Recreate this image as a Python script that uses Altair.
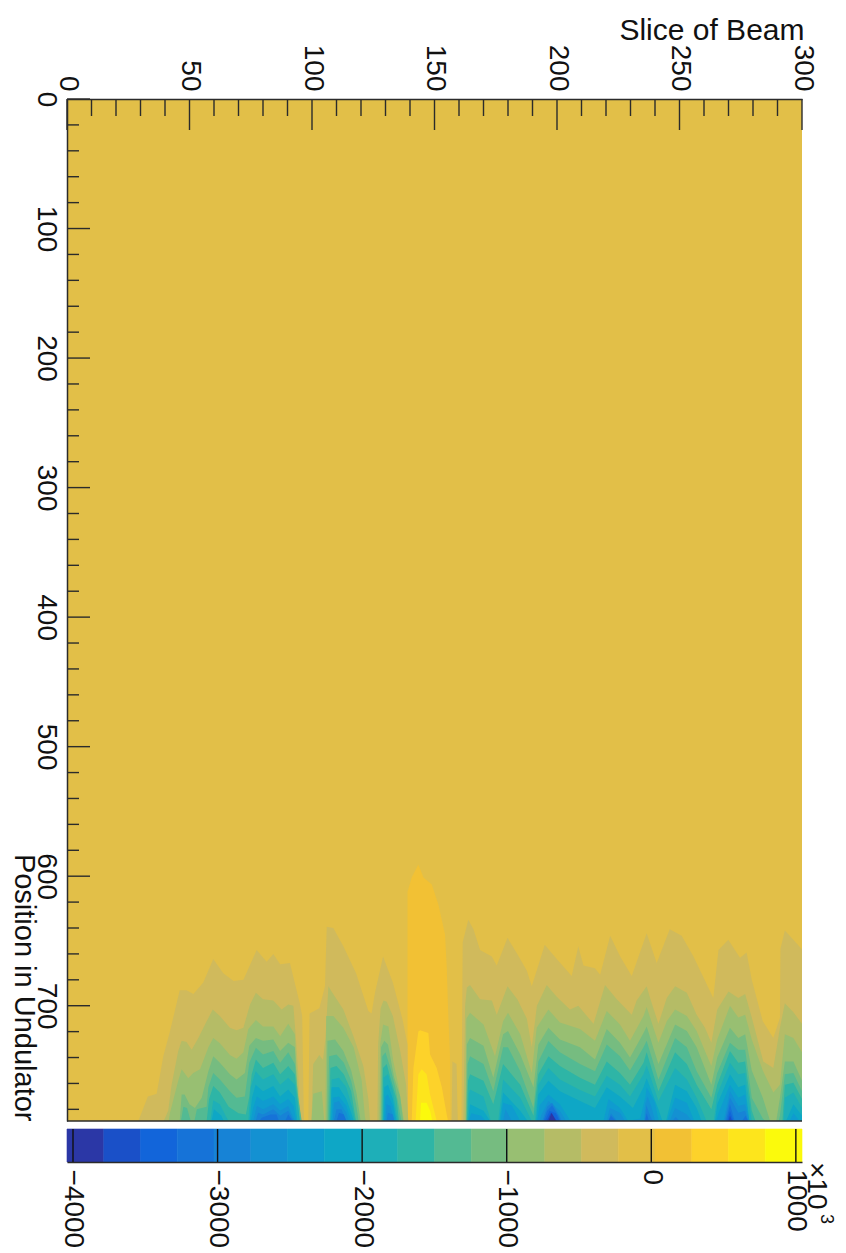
import altair as alt
import pandas as pd

FONT = "Liberation Sans"
BOTTOM = 789

BAND_COLORS = ["#2b37a6", "#1a50c8", "#1265da", "#1673d8", "#1783d6", "#1491d2", "#0f9ccf", "#0ea7c6",
               "#1eafb8", "#2eb5a6", "#53ba93", "#76bc80", "#98bf72", "#b5bc66", "#d0ba5c", "#e2bf48",
               "#f2c134", "#fdd22a", "#fde51c", "#fbfa0c"]
BAND_START = -4041.5
BAND_STEP = 254.2

X_MAJOR = [0, 50, 100, 150, 200, 250, 300]
X_MINOR = [10, 20, 30, 40, 60, 70, 80, 90, 110, 120, 130, 140, 160, 170, 180, 190, 210, 220, 230, 240, 260, 270, 280, 290]
Y_MAJOR = [0, 100, 200, 300, 400, 500, 600, 700]
Y_MINOR = [20, 40, 60, 80, 120, 140, 160, 180, 220, 240, 260, 280, 320, 340, 360, 380, 420, 440, 460, 480,
           520, 540, 560, 580, 620, 640, 660, 680, 720, 740, 760, 780]
CBAR_TICKS = [-4000, -3000, -2000, -1000, 0, 1000]

BAND_16 = [(0, 0), (300, 0)]

BAND_17 = [(139, 789), (139, 612), (140.7, 601), (143.4, 591), (145.5, 601), (148.9, 606.5), (151.6, 622), (154.3, 645),
           (155, 671), (155.7, 712), (156.3, 738), (156.5, 789)]
BAND_18 = [(140.7, 789), (141.4, 748), (143.4, 720), (144.1, 719), (147.5, 721), (148.2, 737.6), (150.9, 748), (153, 763),
           (155, 784), (155.5, 789)]
BAND_19 = [(142.3, 789), (143.4, 753), (144.8, 749), (146.8, 753), (148.2, 768.5), (150.9, 789)]
BAND_20 = [(144.1, 789), (144.5, 775), (146.8, 775), (148.2, 781), (149.1, 789)]

BAND_15 = [(29, 789), (29.5, 787), (33, 770), (36.6, 768), (39.3, 739), (42, 720), (46, 688), (48.8, 688), (51.6, 691),
           (55.6, 682), (59.7, 664), (63.8, 675), (68, 681), (72, 680), (77.4, 657), (81.5, 666), (84.2, 660), (87, 668),
           (91, 667), (95, 698), (96, 708), (96.7, 789), (98.5, 789), (99, 706), (103, 702), (105.3, 685), (106, 639),
           (108.7, 640), (112.8, 654), (118, 675), (123, 704), (124.3, 706), (125.7, 690), (129, 662), (133, 682),
           (137, 711), (139, 730), (139.2, 789), (157, 789), (157.3, 743), (159, 745), (159.5, 789), (161, 789),
           (161.5, 651), (163.8, 633.6), (165.9, 641), (168.6, 657), (173.4, 662), (175.4, 669), (179.8, 647.6),
           (183.8, 660), (187.7, 673), (189.7, 685), (195, 653), (199.9, 664), (206, 677), (208.7, 654), (210.8, 669),
           (215.5, 671), (217.6, 676), (221.7, 646), (225.8, 662), (230.5, 677), (236.6, 644), (240.7, 667), (246, 641),
           (250.9, 646), (255.7, 662), (263.8, 694), (265.9, 657), (269.9, 649), (274.7, 663), (277.4, 659), (279.5, 680),
           (284, 712), (288.3, 725), (291, 709), (291.2, 656), (293, 642), (296.5, 649), (300, 656.6)]

BAND_14 = [(39.5, 789), (41.3, 781), (42.7, 761), (45.4, 735), (46.8, 727), (48.8, 728), (50.9, 734), (53.6, 725), (57, 712),
           (59.5, 703), (62.4, 708), (66.5, 717), (69.2, 719), (72, 717), (74.7, 699), (77.1, 690), (80, 695), (84.2, 696),
           (87.6, 703), (90.3, 699), (92.4, 700), (93.5, 727), (94.4, 753), (95, 786), (95.2, 789), (99.8, 789), (100.5, 745),
           (103, 738), (104.5, 742), (105.5, 725), (106.7, 685), (108, 689), (112.8, 703), (117, 724), (121, 747), (123, 772),
           (123.7, 789), (126.7, 789), (127, 730), (128, 702), (129.2, 696), (130.5, 697), (133, 708), (136, 735), (138.4, 761),
           (139.3, 789), (161.8, 789), (162.5, 700), (163.2, 686), (164.5, 684), (168.6, 695), (173.4, 696), (175.4, 707),
           (179.8, 685), (183.8, 695), (187.7, 710), (189.7, 732), (191.8, 700), (195.8, 684), (199.9, 693), (205.3, 703),
           (208.7, 700), (214.9, 714), (219.6, 684), (224.4, 695), (230.5, 707), (232.5, 696), (236.6, 685), (238, 694),
           (241.4, 714), (244.8, 694), (248.2, 685), (253, 690), (257, 707), (260.4, 717), (263, 728.6), (265.4, 703),
           (270, 689), (274, 694), (276.8, 691), (279.5, 709), (284.2, 743), (288.3, 748), (291, 717), (293, 698),
           (296.5, 705), (300, 714)]

BAND_13 = [(41.5, 789), (42, 783), (45.4, 758), (46.8, 749), (49.5, 756), (51.5, 752), (54.3, 749), (57.7, 732), (59.7, 725),
           (62.4, 729), (66.5, 738), (69.2, 741), (72, 736), (74, 718), (77.1, 711), (80, 716), (84.2, 716), (87, 723.5),
           (90.3, 714), (93, 722), (94, 761), (95, 786), (95.3, 789), (99.8, 789), (100.5, 768), (104, 766), (105, 789),
           (105.5, 789), (105.8, 708), (108.7, 708), (112.8, 717), (117, 732), (120.3, 758), (121.6, 786), (122, 789),
           (127.5, 789), (127.8, 730), (129, 714.5), (131.2, 716), (133.2, 743), (135.2, 761), (137.3, 786), (137.6, 789),
           (162.6, 789), (163, 710), (164.5, 705.5), (170, 714.5), (174.7, 739), (178, 712), (180, 705.5), (185, 722),
           (189.7, 752), (191.7, 717), (196.5, 703), (201.2, 713), (209.4, 718), (215.5, 727), (220.3, 704), (225.7, 714.5),
           (229.8, 727), (235.3, 708), (236.6, 701), (238.5, 712), (241.4, 728.6), (244.8, 712), (248.2, 703), (253, 708),
           (257, 719.6), (260.4, 735), (263, 746.6), (265.4, 726), (270.6, 700), (274, 709), (276.8, 707), (279.5, 726),
           (284, 750), (288.3, 767), (291, 761), (293, 722), (296.5, 725), (300, 736)]

BAND_12 = [(46, 789), (46.8, 768.5), (48, 768.5), (50, 776), (52.2, 779), (55, 771), (57.7, 750.5), (59.7, 739), (62.4, 744),
           (66.5, 753), (69.2, 757), (72.6, 752), (74.4, 731), (77.1, 725), (80, 727), (84.2, 726), (87, 735), (90.3, 728.6),
           (93, 732), (94, 766), (95.4, 786), (95.6, 789), (106, 789), (106.3, 727), (109.4, 726), (112.8, 735), (116, 750),
           (118.2, 768), (119.6, 786), (119.8, 789), (128, 789), (128.2, 732), (129.5, 727), (131, 730), (133.5, 755),
           (136, 770), (137, 786), (137.2, 789), (162.8, 789), (163.2, 730), (164.5, 725), (170, 731), (174, 755.6), (178, 722),
           (180, 719.6), (185, 737.6), (190.4, 763), (192.4, 730), (196.5, 717), (201.2, 726), (209.4, 732), (215.5, 741.5),
           (220.3, 718), (225.7, 728.6), (229.8, 740), (235.3, 721), (236.6, 716), (241.4, 745), (248.2, 714.5), (253, 719.6),
           (257, 732), (263, 761), (265.4, 740), (270.6, 717), (274, 725), (276.8, 722), (279.5, 750), (284, 771), (287, 789),
           (289.5, 789), (291, 771), (293, 743), (296.5, 743), (300, 758)]

BAND_11 = [(46.5, 789), (47.5, 778), (49, 779), (50.5, 789), (52, 789), (53, 780), (57, 778), (57.7, 763), (59.7, 752), (62.4, 757),
           (66.5, 766), (69.2, 771), (72.6, 770), (74.4, 744), (77.1, 732.5), (80, 737.6), (84.2, 735), (87, 744), (90.3, 736),
           (93, 745), (94.4, 771), (95.8, 789), (106.5, 789), (107, 739), (110, 737.6), (113, 744), (116, 758), (118, 776),
           (119, 789), (128.3, 789), (128.7, 739), (130, 736), (132, 748), (134, 763), (136, 784), (136.5, 789), (163, 789),
           (163.5, 745), (164.5, 739), (170, 745), (174, 766), (178, 732), (180, 732), (185, 750.5), (190.4, 779), (192.4, 743),
           (196.5, 727.3), (201.2, 736), (209.4, 745), (215.5, 750.5), (220.3, 730), (225.7, 739), (229.8, 750), (235.3, 732),
           (236.6, 727), (241.4, 757), (248.2, 725), (253, 732), (257, 750.5), (263, 771), (265.4, 752), (270.6, 728.6),
           (274, 734), (276.8, 734), (279.5, 771), (284, 787), (285, 789), (290.5, 789), (291, 785), (293, 753), (296.5, 752),
           (300, 766)]

BAND_10 = [(57, 789), (58, 772), (59.7, 762), (62.4, 767), (66, 778), (70, 783), (73, 784), (74.4, 770), (75.4, 753), (77.1, 741.5),
           (80, 748), (84.2, 744), (87, 753), (90.3, 746.6), (93, 753), (94.4, 776), (95, 789), (107, 789), (107.5, 748),
           (110, 746.6), (113, 753), (116, 766), (117.5, 784), (118, 789), (128.7, 789), (129, 748), (130.5, 745), (132, 755.6),
           (134.5, 772), (135.5, 789), (163.2, 789), (163.7, 758), (164.5, 753), (170, 758), (174, 776), (178, 745), (185, 761),
           (190.4, 785), (192.4, 753), (196.5, 739), (201.2, 746.6), (209.4, 755.6), (215.5, 761), (220.3, 743), (225.7, 752),
           (229.8, 761), (235.3, 744), (236.6, 736), (241.4, 766), (248.2, 736), (253, 745), (257, 761), (263, 780), (265.4, 761),
           (270.6, 735), (274, 744), (276.8, 743), (279.5, 781), (281, 789), (292, 789), (293, 761), (296.5, 759.5), (300, 772)]

BAND_9 = [(58.5, 789), (59.7, 773), (62.4, 776), (65, 786), (66, 789), (74, 789), (75, 763), (77, 750.5), (80, 757), (84.2, 753),
          (87, 761), (90.3, 755.6), (93, 761), (94.4, 780), (95, 789), (107.5, 789), (108, 757), (111, 755.6), (114, 763),
          (116.5, 779), (117.5, 789), (129, 789), (129.2, 755.6), (131, 753), (133, 766), (135, 789), (163.5, 789), (164, 768),
          (164.5, 764.6), (170, 770), (173, 789), (176, 789), (178, 757), (185, 771), (189.7, 789), (191, 789), (192.4, 761),
          (196.5, 748), (201.2, 757), (209.4, 765), (215.5, 770), (220.3, 754), (225.7, 761), (229.8, 770), (235.3, 753),
          (236.6, 746), (241.4, 773.6), (248.2, 748), (253, 757), (257, 771), (261, 789), (264, 789), (265.4, 768.5), (270.6, 744),
          (274, 753), (276.8, 752), (279.5, 789), (292.5, 789), (293, 771), (296.5, 767), (300, 779)]

BAND_8 = [(59, 789), (60, 780), (63, 785), (64, 789), (74.5, 789), (75.5, 771), (77, 761), (80, 766), (84.2, 762), (87, 770),
          (90.3, 764.6), (93, 771), (94, 789), (107.5, 789), (108, 763), (111, 763), (114, 772), (116, 782.6), (117, 789),
          (129.2, 789), (129.5, 763), (131, 761), (133, 772), (134.5, 789), (163.7, 789), (164.5, 776), (170, 781), (172.7, 789),
          (176.5, 789), (178, 767), (185, 781), (188, 789), (191.5, 789), (192.4, 768.5), (196.5, 758), (201.2, 766),
          (209.4, 773.6), (215.5, 779), (220.3, 763), (225.7, 770), (231, 779), (235.3, 763), (236.6, 756), (241.4, 780),
          (243, 789), (244.5, 789), (248.2, 761), (253, 766), (257, 779), (259, 789), (264.5, 789), (265.4, 776), (270.6, 753),
          (274, 763), (276.8, 761), (278.5, 789), (293.5, 789), (296.5, 776), (300, 785)]

BAND_7 = [(75, 789), (76, 779), (77.5, 770), (80, 773.6), (84.2, 770), (87, 776), (90.3, 772), (92.5, 777.5), (93.5, 789),
          (108, 789), (108.5, 771), (111, 770), (114, 777.5), (116, 789), (129.5, 789), (130, 770), (131, 768.5), (133, 777.5),
          (134, 789), (164, 789), (165, 783), (169, 785), (171, 789), (177, 789), (178, 775), (181.5, 777), (185, 789), (192, 789),
          (192.9, 777), (196.5, 768.5), (201.2, 776), (205.5, 789), (219, 789), (221, 772), (225.7, 779), (229, 789), (234, 787),
          (236, 771), (236.6, 763), (240, 775), (241.5, 789), (245, 789), (248.2, 771), (253, 775), (256, 789), (265, 789),
          (266, 782.6), (270.6, 761), (274, 771), (276.8, 768.5), (278.5, 789), (295, 789), (296.5, 783), (299, 789)]

BAND_6 = [(76, 789), (77.5, 777.5), (80, 780), (84.2, 776), (87, 781), (90.3, 777.5), (93, 789), (108.5, 789), (109, 775),
          (111, 773.6), (114, 782.6), (115, 789), (130, 789), (130.5, 776), (132, 777.5), (133.5, 789), (178, 789), (179, 780),
          (181.5, 789), (193, 789), (193.5, 785), (196.5, 773.6), (201.2, 781), (203.7, 789), (220.3, 789), (221.6, 779),
          (225.7, 782.6), (227.7, 789), (235.5, 789), (236, 776), (237, 770), (238.5, 778), (240, 789), (246, 789), (248.2, 779),
          (253, 784), (255, 789), (268, 789), (270.6, 766), (274, 777.5), (276.8, 776), (278.5, 789)]

BAND_5 = [(77, 789), (78, 782.6), (80, 784), (84.2, 780), (87, 785), (90.3, 781), (92.5, 789), (109, 789), (110, 780), (112, 780),
          (114, 789), (130.5, 789), (131, 782.6), (133, 784), (133.5, 789), (194, 789), (196, 778), (198, 775), (201, 785),
          (202, 789), (221, 789), (222, 783), (224.5, 789), (235.8, 789), (236.5, 777), (238, 785), (239, 789), (247, 789),
          (248.5, 786), (250, 789), (268.5, 789), (270.6, 771), (274, 782.6), (276.8, 781), (278, 789)]

BAND_4 = [(78.5, 789), (79.5, 786.5), (83, 784), (85.5, 784), (86.5, 789), (89, 789), (90.3, 784), (92, 789), (110, 789), (111, 782.6),
          (113, 784), (114, 789), (194.5, 789), (196, 781), (198, 777), (200.5, 785), (201.5, 789), (221, 789), (222, 785),
          (224, 789), (236, 789), (236.6, 783), (237.5, 789), (269, 789), (270.6, 776), (272.5, 789), (275.5, 789), (277, 785),
          (278, 789)]

BAND_3 = [(195, 789), (197, 781), (199.5, 783), (201, 789), (269.5, 789), (270.6, 781), (272, 789)]
BAND_2 = [(195.8, 789), (197.5, 782.6), (200, 789), (270, 789), (270.6, 785), (271.5, 789)]
BAND_1 = [(196.5, 789), (197.8, 782.6), (199.6, 789)]

BANDS_IN_PAINT_ORDER = [
    (16, BAND_16), (17, BAND_17), (18, BAND_18), (19, BAND_19), (20, BAND_20), (15, BAND_15), (14, BAND_14),
    (13, BAND_13), (12, BAND_12), (11, BAND_11), (10, BAND_10), (9, BAND_9), (8, BAND_8), (7, BAND_7),
    (6, BAND_6), (5, BAND_5), (4, BAND_4), (3, BAND_3), (2, BAND_2), (1, BAND_1),
]

x_scale = alt.Scale(domain=[0, 300], nice=False, zero=False)
y_scale = alt.Scale(domain=[0, BOTTOM], reverse=True, nice=False, zero=False)

TEXT = "#111111"
LINE = "#2b2b2b"

x_axis = alt.Axis(orient="top", values=X_MAJOR, format="d", ticks=False, grid=False, domain=True, domainColor=LINE, domainWidth=1.5,
                  labelAngle=90, labelAlign="right", labelBaseline="middle", labelFont=FONT, labelFontSize=28, zindex=1,
                  labelColor=TEXT, labelPadding=8, labelOverlap=False, labelFlush=False, labelBound=False,
                  title="Slice of Beam", titleFont=FONT, titleFontSize=30, titleFontWeight="normal", titleColor=TEXT,
                  titleX=737, titleY=-69, titleAlign="right", titleBaseline="middle", titleAngle=0)
y_axis = alt.Axis(orient="left", values=Y_MAJOR, format="d", ticks=False, grid=False, domain=True, domainColor=LINE, domainWidth=1.5,
                  labelAngle=90, labelAlign="center", labelBaseline="top", labelFont=FONT, labelFontSize=28, zindex=1,
                  labelColor=TEXT, labelPadding=8, labelOverlap=False, labelFlush=False, labelBound=False,
                  title="Position in Undulator", titleFont=FONT, titleFontSize=29, titleFontWeight="normal", titleColor=TEXT,
                  titleX=-53, titleY=1022, titleAlign="right", titleBaseline="alphabetic", titleAngle=90)

layers = []
for i, (band, pts) in enumerate(BANDS_IN_PAINT_ORDER):
    df = pd.DataFrame({"slice": [p[0] for p in pts], "pos": [p[1] for p in pts]})
    df["bottom"] = BOTTOM
    layers.append(
        alt.Chart(df).mark_area(color=BAND_COLORS[band - 1], opacity=1, interpolate="linear", line=False, clip=True).encode(
            x=alt.X("slice:Q", scale=x_scale, axis=x_axis),
            y=alt.Y("pos:Q", scale=y_scale, axis=y_axis),
            y2="bottom:Q",
        )
    )

x_major_df = pd.DataFrame({"v": X_MAJOR})
x_minor_df = pd.DataFrame({"v": X_MINOR})
y_major_df = pd.DataFrame({"v": Y_MAJOR})
y_minor_df = pd.DataFrame({"v": Y_MINOR})

layers += [
    alt.Chart(x_major_df).mark_rule(color=LINE, strokeWidth=1.4).encode(
        x=alt.X("v:Q", scale=x_scale, axis=x_axis), y=alt.value(0), y2=alt.value(31)),
    alt.Chart(x_minor_df).mark_rule(color=LINE, strokeWidth=1.4).encode(
        x=alt.X("v:Q", scale=x_scale, axis=x_axis), y=alt.value(0), y2=alt.value(17)),
    alt.Chart(y_major_df).mark_rule(color=LINE, strokeWidth=1.4).encode(
        y=alt.Y("v:Q", scale=y_scale, axis=y_axis), x=alt.value(0), x2=alt.value(23)),
    alt.Chart(y_minor_df).mark_rule(color=LINE, strokeWidth=1.4).encode(
        y=alt.Y("v:Q", scale=y_scale, axis=y_axis), x=alt.value(0), x2=alt.value(12)),
    alt.Chart(pd.DataFrame({"v": [BOTTOM]})).mark_rule(color=LINE, strokeWidth=1.6).encode(
        y=alt.Y("v:Q", scale=y_scale, axis=y_axis), x=alt.value(0), x2=alt.value(735)),
]

main = alt.layer(*layers).properties(width=735, height=1022)

# colour bar
cbar_df = pd.DataFrame({
    "lo": [BAND_START + BAND_STEP * i for i in range(len(BAND_COLORS))],
    "hi": [BAND_START + BAND_STEP * (i + 1) for i in range(len(BAND_COLORS))],
    "color": BAND_COLORS,
})
c_scale = alt.Scale(domain=[BAND_START, BAND_START + BAND_STEP * len(BAND_COLORS)], nice=False, zero=False)
c_axis = alt.Axis(orient="bottom", values=CBAR_TICKS, ticks=False, grid=False, domain=True, domainColor=LINE, domainWidth=1.6,
                  labelAngle=90, labelAlign="left", labelBaseline="middle", labelFont=FONT, labelFontSize=28, zindex=1,
                  labelColor=TEXT, labelPadding=7, labelOverlap=False, labelFlush=False, labelBound=False, title=None, format="d")
bars = alt.Chart(cbar_df).mark_rect(strokeWidth=0.6).encode(
    x=alt.X("lo:Q", scale=c_scale, axis=c_axis),
    x2="hi:Q",
    y=alt.value(0),
    y2=alt.value(33),
    color=alt.Color("color:N", scale=None, legend=None),
    stroke=alt.Stroke("color:N", scale=None, legend=None),
)
cticks = alt.Chart(pd.DataFrame({"v": CBAR_TICKS})).mark_rule(color="#111111", strokeWidth=1.4).encode(
    x=alt.X("v:Q", scale=c_scale, axis=c_axis), y=alt.value(0), y2=alt.value(33))
times = alt.Chart(pd.DataFrame({"t": ["\u00d710"]})).mark_text(
    font=FONT, fontSize=28, angle=90, align="left", baseline="alphabetic", color=TEXT).encode(
    text="t:N", x=alt.value(741), y=alt.value(33))
power = alt.Chart(pd.DataFrame({"t": ["3"]})).mark_text(
    font=FONT, fontSize=18, angle=90, align="left", baseline="alphabetic", color=TEXT).encode(
    text="t:N", x=alt.value(754), y=alt.value(85))
cbar = alt.layer(bars, cticks, times, power).properties(width=735, height=33)

chart = alt.vconcat(main, cbar, spacing=6).properties(
    padding={"left": 0, "right": 2, "top": 7, "bottom": 0}, background="white"
).configure_view(stroke=None)

chart.save("out.html", embed_options={"renderer": "svg", "actions": False})
